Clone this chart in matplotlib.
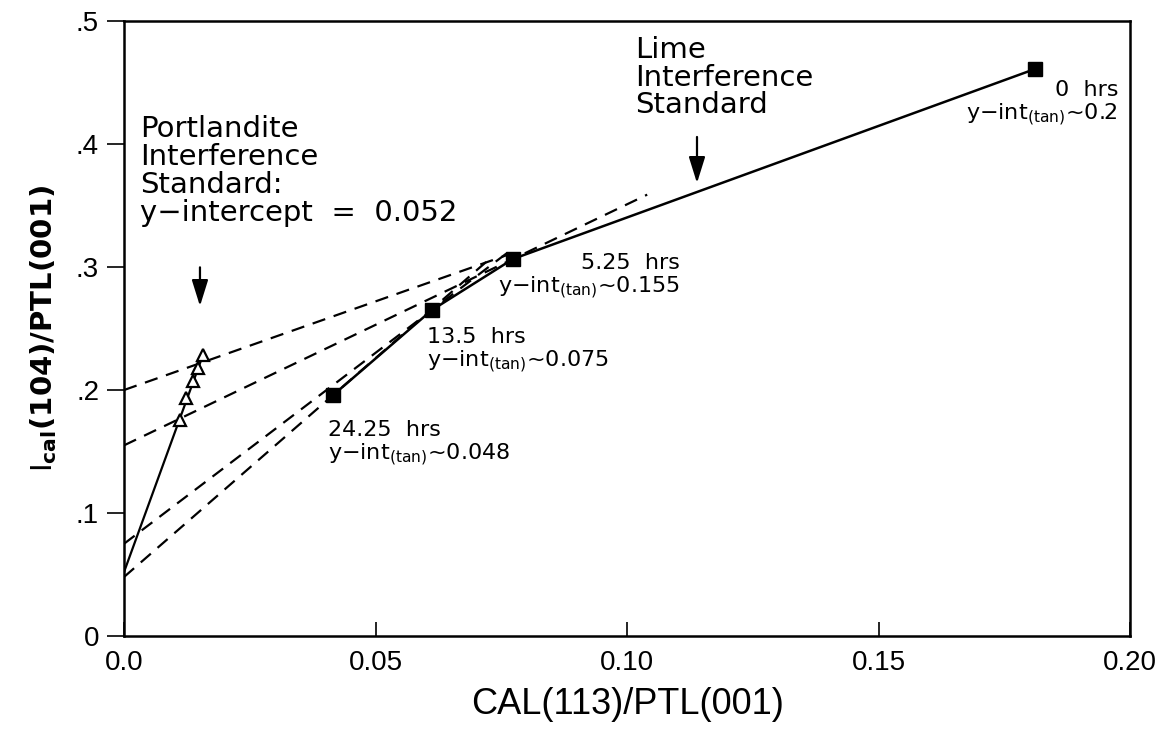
import numpy as np
from matplotlib import pyplot as plt

# Lime interference standard (hydration series)
hours = ['0  hrs', '5.25  hrs', '13.5  hrs', '24.25  hrs']
lime_x = [0.1811, 0.0773, 0.0612, 0.0416]
lime_y = [0.461, 0.3065, 0.265, 0.196]
tan_int = ['0.2', '0.155', '0.075', '0.048']
tan_yint = [0.200, 0.155, 0.075, 0.048]
tan_end_x = [0.076, 0.104, 0.076, 0.072]

# Portlandite interference standard
port_x = [0.0111, 0.0123, 0.0137, 0.0147, 0.0157]
port_y = [0.1756, 0.1935, 0.2073, 0.2179, 0.2285]
port_yint = 0.052

x_ticks = [0.0, 0.05, 0.10, 0.15, 0.20]
x_ticklabels = ['0.0', '0.05', '0.10', '0.15', '0.20']
y_ticks = [0, 0.1, 0.2, 0.3, 0.4, 0.5]
y_ticklabels = ['0', '.1', '.2', '.3', '.4', '.5']

plt.rcParams['font.family'] = ['DejaVu Sans']
plt.rcParams['mathtext.fontset'] = 'dejavusans'

fig = plt.figure(figsize=(11.71, 7.32), dpi=100)
ax = fig.add_axes([0.1059, 0.1311, 0.8592, 0.8402])

# tangent lines
for yi, xp, yp, xe in zip(tan_yint, lime_x, lime_y, tan_end_x):
    slope = (yp - yi) / xp
    ax.plot([0, xe], [yi, yi + slope * xe], color='black', lw=1.6,
            dashes=(6, 4), zorder=2)

# lime curve
ax.plot(lime_x, lime_y, color='black', lw=1.8, zorder=3)
ax.plot(lime_x, lime_y, 's', color='black', ms=10, zorder=4)

# portlandite line + triangles
ax.plot([0, port_x[-1]], [port_yint, port_y[-1]], color='black', lw=1.6, zorder=3)
ax.plot(port_x, port_y, '^', mfc='white', mec='black', mew=1.6, ms=9, zorder=4)

ax.set_xlim(0, 0.20)
ax.set_ylim(0, 0.5)
ax.set_xticks(x_ticks)
ax.set_xticklabels(x_ticklabels, family='Liberation Sans')
ax.set_yticks(y_ticks)
ax.set_yticklabels(y_ticklabels, family='Liberation Sans')
ax.tick_params(axis='x', direction='in', length=10, width=1.2, labelsize=20, pad=10)
ax.tick_params(axis='y', direction='out', length=12, width=1.2, labelsize=20, pad=6)
for s in ax.spines.values():
    s.set_linewidth(1.8)

ax.set_xlabel('CAL(113)/PTL(001)', family='Liberation Sans', fontsize=26, labelpad=8)
ax.set_ylabel(r'$\mathregular{I_{\mathbf{cal}}}$$\mathbf{(104)/PTL(001)}$',
              fontsize=21, labelpad=12)

arrow = dict(arrowstyle='-|>,head_length=0.8,head_width=0.25', color='black',
             lw=1.6, mutation_scale=20)

# annotations
ax.text(0.0032, 0.4236, 'Portlandite\nInterference\nStandard:\ny\u2212intercept  =  0.052',
        fontsize=21, va='top', ha='left', linespacing=1.0)
ax.annotate('', xy=(0.0151, 0.266), xytext=(0.0151, 0.302), arrowprops=arrow)

ax.text(0.1016, 0.4878, 'Lime\nInterference\nStandard',
        fontsize=21, va='top', ha='left', linespacing=0.98)
ax.annotate('', xy=(0.1139, 0.366), xytext=(0.1139, 0.408), arrowprops=arrow)

lbl_pos = [(0.1976, 0.452, 'right'), (0.1105, 0.3114, 'right'),
           (0.0602, 0.2512, 'left'), (0.0406, 0.1756, 'left')]
for h, t, (lx, ly, ha) in zip(hours, tan_int, lbl_pos):
    ax.text(lx, ly, h + '\n' + r'y$-$int$_{\mathregular{(tan)}}$~' + t,
            fontsize=16, va='top', ha=ha, multialignment=ha, linespacing=1.1)

plt.savefig('out.png', dpi=100)
